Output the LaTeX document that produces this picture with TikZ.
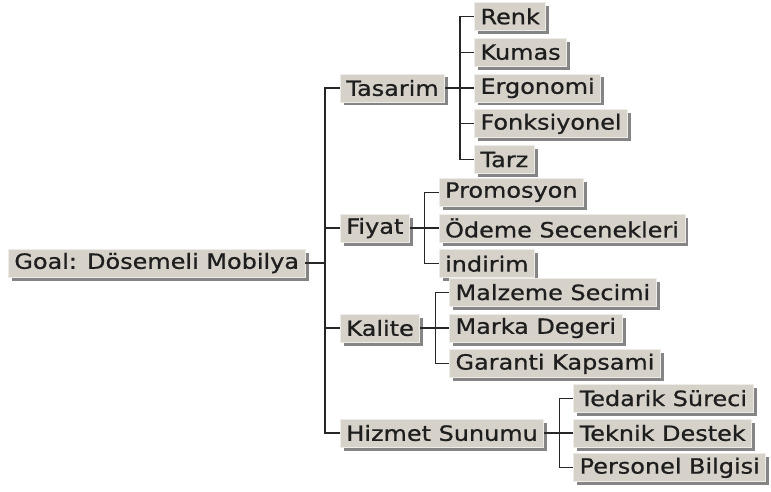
\documentclass[tikz,border=0pt]{standalone}
\usepackage{fontspec}
\setmainfont[FakeStretch=1.14, FakeBold=0.8]{DejaVu Sans}
\usetikzlibrary{positioning, shadows}
\definecolor{boxgray}{HTML}{D6D2CA}
\definecolor{boxedge}{HTML}{EEECE8}
\definecolor{shadegray}{HTML}{858585}
\definecolor{inkgray}{HTML}{1E1E1E}

\begin{document}
\begin{tikzpicture}[
    x=1pt, y=-1pt,
    node distance=7pt and 29pt,
    tree_box/.style={rectangle, fill=boxgray, draw=boxedge, line width=0.8pt, text=inkgray, inner xsep=6pt, inner ysep=0pt, minimum height=28pt, font=\fontsize{21}{25}\selectfont, drop shadow={shadow xshift=3.5pt, shadow yshift=-3.5pt, fill=shadegray, opacity=1}},
    root_box/.style={tree_box, anchor=west},
    topic_box/.style={tree_box, anchor=west},
    leaf_box/.style={tree_box},
    link/.style={draw=black!85, line width=1.2pt}
]
\useasboundingbox (0,0) rectangle (771,492);

\node[root_box] (goal) at (8,263) {Goal: Dösemeli Mobilya};

% first level
\node[topic_box] (tasarim) at (340,88) {Tasarim};
\node[topic_box] (fiyat) at (340,228) {Fiyat};
\node[topic_box] (kalite) at (340,328) {Kalite};
\node[topic_box] (hizmet) at (340,433) {Hizmet Sunumu};

% Tasarim
\node[leaf_box, right=of tasarim] (ergonomi) {Ergonomi};
\node[leaf_box, above=of ergonomi.north west, anchor=south west] (kumas) {Kumas};
\node[leaf_box, above=of kumas.north west, anchor=south west] (renk) {Renk};
\node[leaf_box, below=of ergonomi.south west, anchor=north west] (fonksiyonel) {Fonksiyonel};
\node[leaf_box, below=of fonksiyonel.south west, anchor=north west] (tarz) {Tarz};

% Fiyat
\node[leaf_box, right=of fiyat] (odeme) {Ödeme Secenekleri};
\node[leaf_box, above=of odeme.north west, anchor=south west] (promosyon) {Promosyon};
\node[leaf_box, below=of odeme.south west, anchor=north west] (indirim) {indirim};

% Kalite
\node[leaf_box, right=of kalite] (marka) {Marka Degeri};
\node[leaf_box, above=of marka.north west, anchor=south west] (malzeme) {Malzeme Secimi};
\node[leaf_box, below=of marka.south west, anchor=north west] (garanti) {Garanti Kapsami};

% Hizmet Sunumu
\node[leaf_box, right=of hizmet] (teknik) {Teknik Destek};
\node[leaf_box, above=6pt of teknik.north west, anchor=south west] (tedarik) {Tedarik Süreci};
\node[leaf_box, below=6pt of teknik.south west, anchor=north west] (personel) {Personel Bilgisi};

% Connections
\foreach \kid in {tasarim, fiyat, kalite, hizmet}
  \draw[link] (goal.east) -| ([xshift=-15pt]\kid.west) -- (\kid.west);
\foreach \kid in {renk, kumas, ergonomi, fonksiyonel, tarz}
  \draw[link] (tasarim.east) -| ([xshift=-14pt]\kid.west) -- (\kid.west);
\foreach \kid in {promosyon, odeme, indirim}
  \draw[link] (fiyat.east) -| ([xshift=-14pt]\kid.west) -- (\kid.west);
\foreach \kid in {malzeme, marka, garanti}
  \draw[link] (kalite.east) -| ([xshift=-14pt]\kid.west) -- (\kid.west);
\foreach \kid in {tedarik, teknik, personel}
  \draw[link] (hizmet.east) -| ([xshift=-14pt]\kid.west) -- (\kid.west);

\end{tikzpicture}
\end{document}
